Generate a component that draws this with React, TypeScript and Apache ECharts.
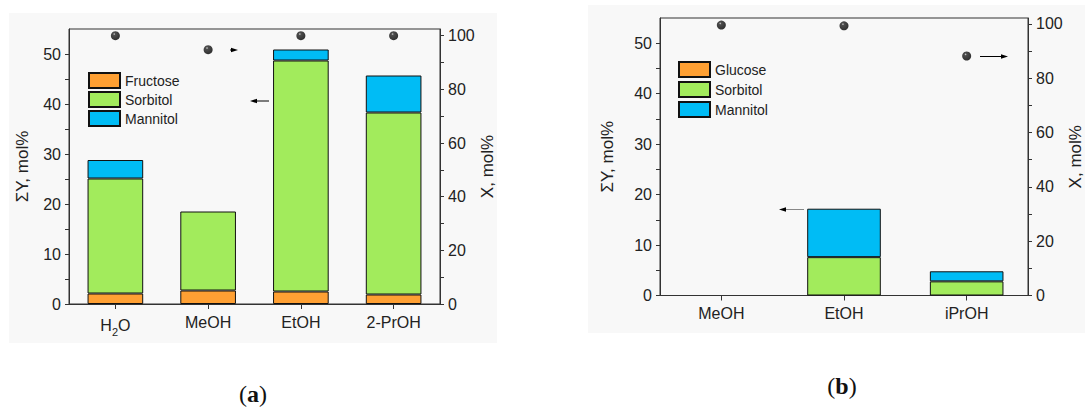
import React, { useEffect, useRef } from "react";
import * as echarts from "echarts";

// Panel (a)
const catsA = ["H2O", "MeOH", "EtOH", "2-PrOH"];
const fructoseA = [2.1, 2.7, 2.5, 1.9];
const sorbitolA = [23.0, 15.8, 46.2, 36.4];
const mannitolA = [3.7, null, 2.2, 7.4];
const convA = [100, 94.8, 100, 100];

// Panel (b)
const catsB = ["MeOH", "EtOH", "iPrOH"];
const glucoseB = [null, null, null];
const sorbitolB = [null, 7.6, 2.8];
const mannitolB = [null, 9.6, 2.0];
const convB = [99.6, 99.3, 88.2];

const FONT = "Liberation Sans, Arial, sans-serif";
const SERIF = "Liberation Serif, Times New Roman, serif";
const C_ORANGE = "#FFA033";
const C_GREEN = "#A2EB5C";
const C_BLUE = "#00BCF5";
const AXIS = "#333";

const sphere = new echarts.graphic.RadialGradient(0.38, 0.32, 0.65, [
  { offset: 0, color: "#c8c8c8" },
  { offset: 0.22, color: "#222" },
  { offset: 1, color: "#000" },
]);

function leftY(gridIndex: number, name: string, nameGap: number) {
  return {
    type: "value",
    gridIndex,
    min: 0,
    max: 55,
    interval: 5,
    name,
    nameLocation: "middle",
    nameGap,
    nameRotate: 90,
    nameTextStyle: { fontFamily: FONT, fontSize: 17, color: "#222" },
    axisLine: { show: true, lineStyle: { color: AXIS, width: 1 } },
    axisTick: { show: true, length: 4, lineStyle: { color: AXIS } },
    splitLine: { show: false },
    axisLabel: {
      fontFamily: FONT,
      fontSize: 16,
      color: "#222",
      margin: 8,
      showMaxLabel: false,
      formatter: (v: number) => (v % 10 === 0 ? String(v) : ""),
    },
  };
}

function rightY(gridIndex: number, max: number, name: string, nameGap: number) {
  return {
    type: "value",
    gridIndex,
    position: "right",
    min: 0,
    max,
    interval: 10,
    name,
    nameLocation: "middle",
    nameGap,
    nameRotate: 90,
    nameTextStyle: { fontFamily: FONT, fontSize: 17, color: "#222" },
    axisLine: { show: true, lineStyle: { color: AXIS, width: 1 } },
    axisTick: { show: true, length: 4, lineStyle: { color: AXIS } },
    splitLine: { show: false },
    axisLabel: {
      fontFamily: FONT,
      fontSize: 16,
      color: "#222",
      margin: 8,
      showMaxLabel: false,
      formatter: (v: number) => (v % 20 === 0 ? String(v) : ""),
    },
  };
}

function catX(gridIndex: number, data: string[]) {
  return {
    type: "category",
    gridIndex,
    data,
    boundaryGap: true,
    axisLine: { show: true, lineStyle: { color: AXIS, width: 1 } },
    axisTick: { show: true, alignWithLabel: true, length: 5, lineStyle: { color: AXIS } },
    axisLabel: {
      interval: 0,
      fontFamily: FONT,
      fontSize: 16,
      color: "#222",
      margin: 10,
      formatter: (v: string) => (v === "H2O" ? "{n|H}{s|2}{n|O}" : v),
      rich: {
        n: { fontFamily: FONT, fontSize: 16, color: "#222" },
        s: { fontFamily: FONT, fontSize: 11, color: "#222", padding: [12, 0, 0, 0] },
      },
    },
  };
}

function bar(name: string, data: any[], color: string, xi: number, yi: number, stack: string) {
  return {
    type: "bar",
    name,
    data,
    stack,
    xAxisIndex: xi,
    yAxisIndex: yi,
    barWidth: "60%",
    itemStyle: { color, borderColor: "#111", borderWidth: 1 },
  };
}

function arrow(x1: number, y: number, x2: number, color = "#000") {
  const dir = x2 > x1 ? 1 : -1;
  return [
    {
      type: "line",
      z: 50,
      shape: { x1, y1: y, x2: x2 - dir * 5, y2: y },
      style: { stroke: color, lineWidth: 1 },
    },
    {
      type: "polygon",
      z: 50,
      shape: { points: [[x2, y], [x2 - dir * 7, y - 2.2], [x2 - dir * 7, y + 2.2]] },
      style: { fill: "#000" },
    },
  ];
}

function panelLabel(letter: string, x: number, y: number) {
  return {
    type: "text",
    x,
    y,
    style: {
      text: `{p|(}{b|${letter}}{p|)}`,
      align: "center",
      verticalAlign: "middle",
      rich: {
        p: { fontFamily: SERIF, fontSize: 24, fill: "#111" },
        b: { fontFamily: SERIF, fontSize: 24, fontWeight: "bold", fill: "#111" },
      },
    },
  };
}

export default function App() {
  const ref = useRef<HTMLDivElement>(null);
  useEffect(() => {
    if (!ref.current) return;
    const chart = echarts.init(ref.current, null, { renderer: "svg" });
    chart.setOption({
      animation: false,
      backgroundColor: "#ffffff",
      grid: [
        { left: 69, top: 29, width: 371, height: 275, show: true, borderColor: AXIS, borderWidth: 1, backgroundColor: "transparent" },
        { left: 660, top: 18, width: 372.5, height: 277.5, show: true, borderColor: AXIS, borderWidth: 1, backgroundColor: "transparent" },
      ],
      legend: [
        {
          data: ["Fructose", "Sorbitol", "Mannitol"],
          orient: "vertical",
          left: 88,
          top: 72,
          padding: 0,
          itemWidth: 31,
          itemHeight: 15,
          itemGap: 2,
          icon: "rect",
          textStyle: { fontFamily: FONT, fontSize: 14, color: "#222" },
          selectedMode: false,
        },
        {
          data: ["Glucose", "Sorbitol", "Mannitol"],
          orient: "vertical",
          left: 678,
          top: 61,
          padding: 0,
          itemWidth: 31,
          itemHeight: 15,
          itemGap: 3,
          icon: "rect",
          textStyle: { fontFamily: FONT, fontSize: 14, color: "#222" },
          selectedMode: false,
        },
      ],
      xAxis: [catX(0, catsA), catX(1, catsB)],
      yAxis: [
        leftY(0, "ΣY, mol%", 38),
        rightY(0, 102.5, "X, mol%", 32),
        leftY(1, "ΣY, mol%", 44),
        rightY(1, 102.2, "X, mol%", 39),
      ],
      series: [
        bar("Fructose", fructoseA, C_ORANGE, 0, 0, "a"),
        bar("Sorbitol", sorbitolA, C_GREEN, 0, 0, "a"),
        bar("Mannitol", mannitolA, C_BLUE, 0, 0, "a"),
        {
          type: "scatter",
          name: "Conversion A",
          data: convA,
          xAxisIndex: 0,
          yAxisIndex: 1,
          symbol: "circle",
          symbolSize: 9,
          itemStyle: { color: sphere },
          z: 10,
        },
        bar("Glucose", glucoseB, C_ORANGE, 1, 2, "b"),
        bar("Sorbitol", sorbitolB, C_GREEN, 1, 2, "b"),
        bar("Mannitol", mannitolB, C_BLUE, 1, 2, "b"),
        {
          type: "scatter",
          name: "Conversion B",
          data: convB,
          xAxisIndex: 1,
          yAxisIndex: 3,
          symbol: "circle",
          symbolSize: 9,
          itemStyle: { color: sphere },
          z: 10,
        },
      ],
      graphic: [
        { type: "rect", z: -10, shape: { x: 9, y: 13, width: 488, height: 330 }, style: { fill: "#f8f8f8" } },
        { type: "rect", z: -10, shape: { x: 588, y: 5, width: 497, height: 328 }, style: { fill: "#f8f8f8" } },
        ...arrow(269, 101, 250),
        ...arrow(230, 50, 238),
        ...arrow(980, 56.5, 1008),
        ...arrow(804, 209.5, 779, "#888"),
        panelLabel("a", 253, 394),
        panelLabel("b", 842, 386),
      ],
    });
    return () => chart.dispose();
  }, []);
  return (
    <div
      ref={ref}
      style={{ position: "fixed", left: 0, top: 0, width: 1085, height: 409 }}
    />
  );
}
